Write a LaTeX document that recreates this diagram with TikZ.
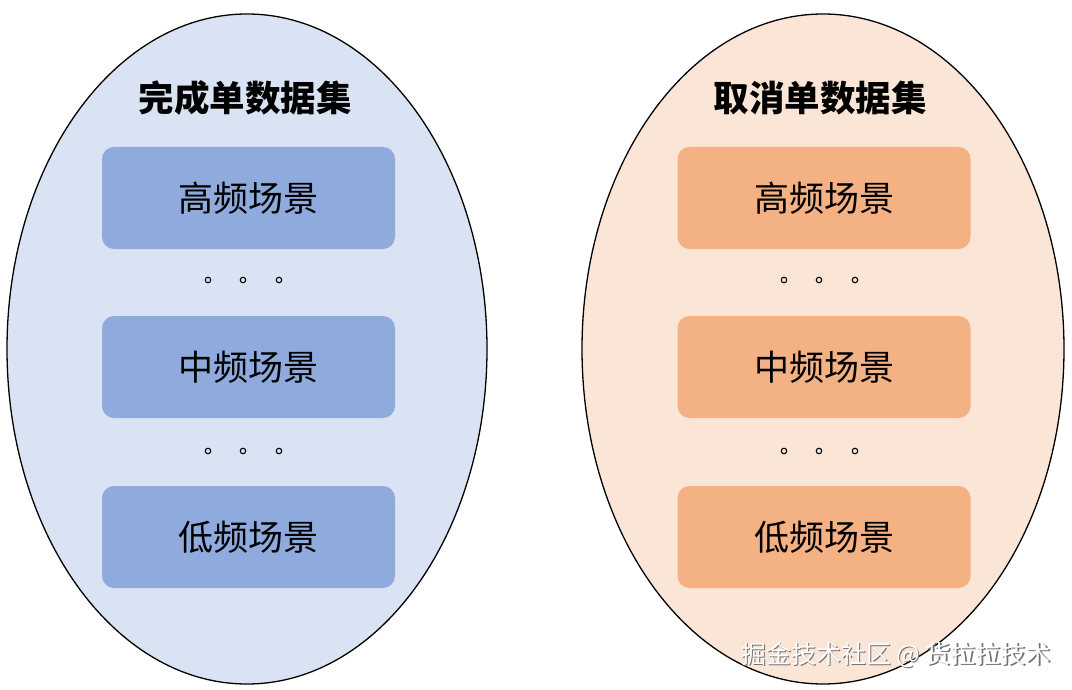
\documentclass[tikz,border=0pt]{standalone}
\usetikzlibrary{shapes.geometric}
\usepackage{fontspec}
\newfontfamily\cjk{Noto Sans CJK SC}
\definecolor{bluebg}{HTML}{DAE3F3}
\definecolor{bluebox}{HTML}{8FAADC}
\definecolor{orangebg}{HTML}{FBE5D6}
\definecolor{orangebox}{HTML}{F4B183}
\begin{document}
\begin{tikzpicture}[x=1pt,y=-1pt,
  oval/.style={draw=black, line width=1.3pt},
  scene/.style={rounded corners=12pt, minimum width=293pt, minimum height=102pt, inner sep=0pt, font=\cjk\fontsize{35}{40}\selectfont},
  title/.style={font=\cjk\bfseries\fontsize{35.5}{40}\selectfont},
  dot/.style={circle, draw=black, line width=1.1pt, minimum size=5.5pt, inner sep=0pt}]
\useasboundingbox (0,0) rectangle (1072,690);
% left set
\node[oval, ellipse, fill=bluebg, minimum width=480pt, minimum height=670pt, inner sep=0pt] (L) at (247,349) {};
\node[title] (Lt) at (245,98) {完成单数据集};
\node[scene, fill=bluebox] (Lh) at (248.5,198) {高频场景};
\node[scene, fill=bluebox] (Lm) at (248.5,367) {中频场景};
\node[scene, fill=bluebox] (Ll) at (248.5,537) {低频场景};
\foreach \x [count=\i] in {208,243,279}{
  \node[dot] (Ld1\i) at (\x,280) {};
  \node[dot] (Ld2\i) at (\x,451) {};
}
% right set
\node[oval, ellipse, fill=orangebg, minimum width=482pt, minimum height=670pt, inner sep=0pt] (R) at (823,349) {};
\node[title] (Rt) at (820,98) {取消单数据集};
\node[scene, fill=orangebox] (Rh) at (824,198) {高频场景};
\node[scene, fill=orangebox] (Rm) at (824,367) {中频场景};
\node[scene, fill=orangebox] (Rl) at (824,537) {低频场景};
\foreach \x [count=\i] in {784,819,855}{
  \node[dot] (Rd1\i) at (\x,280) {};
  \node[dot] (Rd2\i) at (\x,451) {};
}
% watermark
\node[font=\cjk\fontsize{25}{28}\selectfont, text=black!55] (wms) at (897.3,656.3) {掘金技术社区 @ 货拉拉技术};
\node[font=\cjk\fontsize{25}{28}\selectfont, text=white] (wm) at (896,655) {掘金技术社区 @ 货拉拉技术};
\end{tikzpicture}
\end{document}
